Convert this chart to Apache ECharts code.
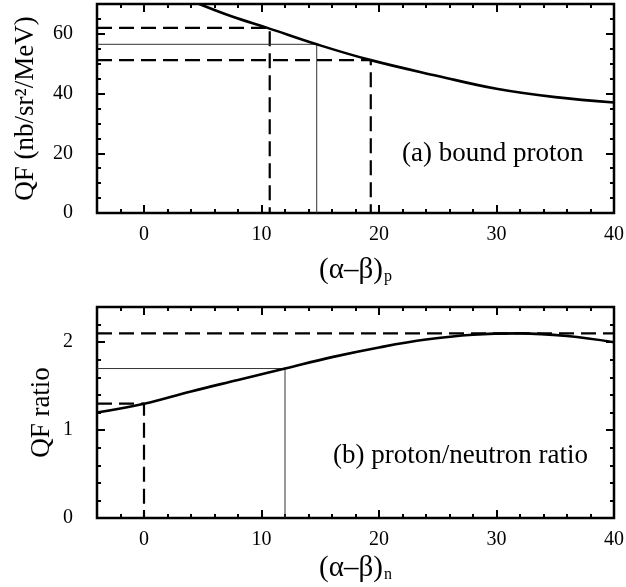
<!DOCTYPE html>
<html>
<head>
<meta charset="utf-8">
<script src="https://cdn.jsdelivr.net/npm/echarts@6/dist/echarts.min.js"></script>
<style>
  html, body { margin: 0; padding: 0; background: #fff; }
  #chart { width: 626px; height: 587px; }
</style>
</head>
<body>
<div id="chart"></div>
<script>
// panel (a): bound proton QF vs (alpha-beta)_p
const protonCurve = [[4.7, 70], [7.5, 65.8], [10.5, 62], [14.7, 56.5], [19.3, 51.2],
  [25, 45.9], [30, 41.6], [35, 38.8], [40, 37.0]];
const protonDashLow = [[-4, 62], [10.7, 62], [10.7, 0]];
const protonThin = [[-4, 56.5], [14.7, 56.5], [14.7, 0]];
const protonDashHigh = [[-4, 51.2], [19.3, 51.2], [19.3, 0]];

// panel (b): proton/neutron ratio vs (alpha-beta)_n
const ratioCurve = [[-4, 1.2], [0, 1.3], [4, 1.44], [8, 1.57], [12, 1.70], [16, 1.83],
  [20, 1.94], [24, 2.03], [28, 2.085], [32, 2.10], [36, 2.07], [40, 2.0]];
const ratioDashMax = [[-4, 2.1], [40, 2.1]];
const ratioDashLow = [[-4, 1.3], [0, 1.3], [0, 0]];
const ratioThin = [[-4, 1.7], [12, 1.7], [12, 0]];

// ticks
const xMajor = [0, 10, 20, 30, 40];
const yMajorA = [0, 20, 40, 60];
const yMajorB = [0, 1, 2];

const FONT = "'Liberation Serif', 'Times New Roman', serif";

let chart = echarts.init(document.getElementById('chart'));

function xAxes(gi, name, gap) {
  let base = {
    type: 'value', gridIndex: gi, min: -4, max: 40, interval: 2,
    splitLine: { show: false }, axisLine: { show: false, onZero: false }
  };
  return [
    Object.assign({}, base, {
      position: 'bottom',
      axisTick: { inside: true, length: 4, lineStyle: { color: '#000', width: 2 } },
      axisLabel: {
        customValues: xMajor, margin: 12, color: '#000', fontFamily: FONT, fontSize: 20
      },
      name: name, nameLocation: 'middle', nameGap: gap, nameMoveOverlap: false,
      nameTextStyle: {
        color: '#000', fontFamily: FONT, fontSize: 29,
        rich: { sub: { fontFamily: FONT, fontSize: 16, color: '#000', verticalAlign: 'bottom', lineHeight: 16, padding: [24, 0, 0, 1] } }
      }
    }),
    Object.assign({}, base, {
      position: 'bottom',
      axisTick: { inside: true, length: 8, customValues: xMajor, lineStyle: { color: '#000', width: 2 } },
      axisLabel: { show: false }
    }),
    Object.assign({}, base, {
      position: 'top',
      axisTick: { inside: true, length: 4, lineStyle: { color: '#000', width: 2 } },
      axisLabel: { show: false }
    }),
    Object.assign({}, base, {
      position: 'top',
      axisTick: { inside: true, length: 8, customValues: xMajor, lineStyle: { color: '#000', width: 2 } },
      axisLabel: { show: false }
    })
  ];
}

function yAxes(gi, max, step, major, name, gap) {
  let base = {
    type: 'value', gridIndex: gi, min: 0, max: max, interval: step,
    splitLine: { show: false }, axisLine: { show: false, onZero: false }
  };
  return [
    Object.assign({}, base, {
      position: 'left',
      axisTick: { inside: true, length: 4, lineStyle: { color: '#000', width: 2 } },
      axisLabel: { customValues: major, margin: 24, color: '#000', fontFamily: FONT, fontSize: 20 },
      name: name, nameLocation: 'middle', nameGap: gap, nameMoveOverlap: false,
      nameTextStyle: { color: '#000', fontFamily: FONT, fontSize: 27 }
    }),
    Object.assign({}, base, {
      position: 'left',
      axisTick: { inside: true, length: 8, customValues: major, lineStyle: { color: '#000', width: 2 } },
      axisLabel: { show: false }
    }),
    Object.assign({}, base, {
      position: 'right',
      axisTick: { inside: true, length: 4, lineStyle: { color: '#000', width: 2 } },
      axisLabel: { show: false }
    }),
    Object.assign({}, base, {
      position: 'right',
      axisTick: { inside: true, length: 8, customValues: major, lineStyle: { color: '#000', width: 2 } },
      axisLabel: { show: false }
    })
  ];
}

function line(xi, yi, data, style, smooth) {
  return {
    type: 'line', xAxisIndex: xi, yAxisIndex: yi, data: data,
    showSymbol: false, smooth: smooth ? 0.4 : false,
    clip: true, lineStyle: style, silent: true
  };
}

const thick = { color: '#000', width: 2.6 };
const dashed = { color: '#000', width: 2.2, type: [15, 7] };
const thin = { color: '#333', width: 1 };

let option = {
  animation: false,
  backgroundColor: '#fff',
  grid: [
    { left: 97, right: 12, top: 4, height: 209, show: true, borderColor: '#000', borderWidth: 2.5,
      backgroundColor: 'transparent', outerBoundsMode: 'none' },
    { left: 97, right: 12, top: 307, height: 211, show: true, borderColor: '#000', borderWidth: 2.5,
      backgroundColor: 'transparent', outerBoundsMode: 'none' }
  ],
  title: [
    { text: '(a) bound proton', left: 402, top: 140, padding: 0,
      textStyle: { fontFamily: FONT, fontSize: 27, fontWeight: 'normal', color: '#000' } },
    { text: '(b) proton/neutron ratio', left: 333, top: 442, padding: 0,
      textStyle: { fontFamily: FONT, fontSize: 27, fontWeight: 'normal', color: '#000' } }
  ],
  xAxis: xAxes(0, '(α–β){sub|p}', 43).concat(xAxes(1, '(α–β){sub|n}', 36)),
  yAxis: yAxes(0, 70, 5, yMajorA, 'QF (nb/sr²/MeV)', 58).concat(yAxes(1, 2.4, 0.2, yMajorB, 'QF ratio', 42)),
  series: [
    line(0, 0, protonDashLow, dashed),
    line(0, 0, protonThin, thin),
    line(0, 0, protonDashHigh, dashed),
    line(0, 0, protonCurve, thick, true),
    line(4, 4, ratioDashMax, dashed),
    line(4, 4, ratioDashLow, dashed),
    line(4, 4, ratioThin, thin),
    line(4, 4, ratioCurve, thick, true)
  ]
};

chart.setOption(option);
</script>
</body>
</html>
